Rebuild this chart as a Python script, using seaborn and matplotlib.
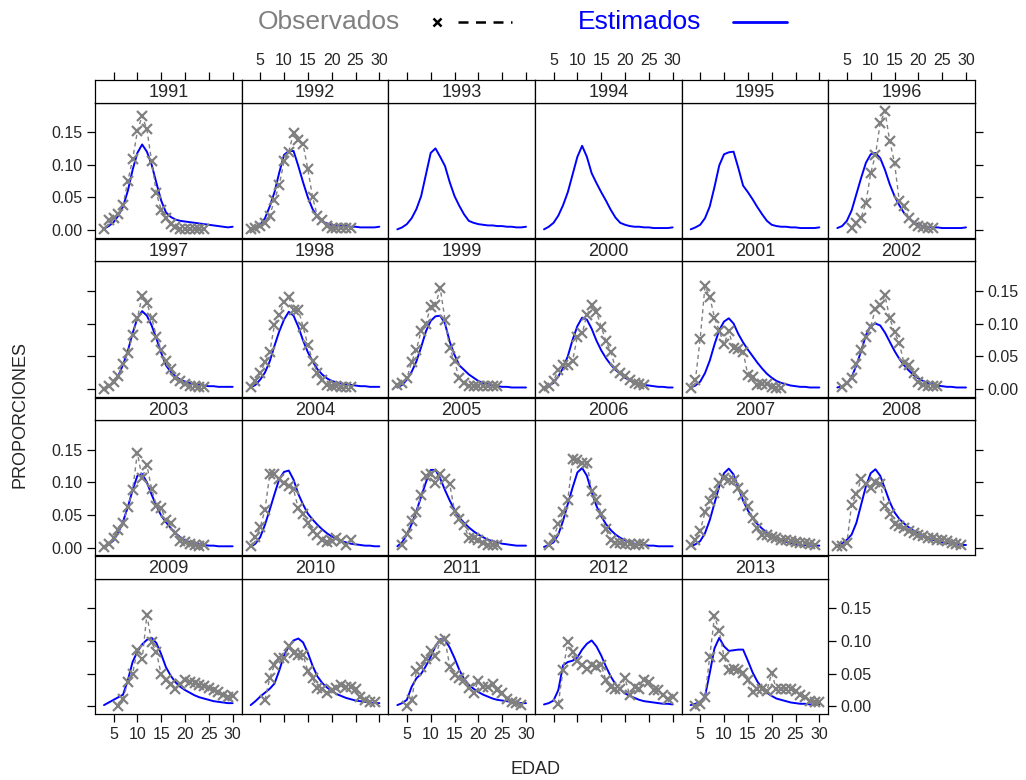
import numpy as np
import pandas as pd
import seaborn as sns
import matplotlib.pyplot as plt
from matplotlib.lines import Line2D

# ---- data (proporciones por edad) ----
years = list(range(1991, 2014))
ages = list(range(3, 31))  # edades del modelo

est_1991 = [.002,.006,.012,.022,.036,.060,.092,.118,.131,.120,.100,.072,.045,.027,.020,.016,.014,.013,.012,.011,.010,.009,.008,.007,.006,.005,.004,.005]
est_1992 = [.002,.004,.008,.018,.036,.058,.088,.115,.121,.121,.098,.073,.050,.032,.020,.013,.010,.008,.007,.006,.006,.005,.005,.004,.004,.004,.004,.005]
est_1993 = [.001,.004,.009,.018,.032,.052,.085,.118,.125,.112,.098,.073,.052,.037,.024,.014,.011,.009,.008,.007,.007,.006,.006,.005,.005,.004,.004,.005]
est_1994 = [.001,.005,.011,.022,.038,.058,.085,.112,.129,.112,.087,.072,.058,.045,.031,.019,.011,.008,.006,.005,.005,.004,.004,.003,.003,.003,.003,.004]
est_1995 = [.001,.004,.008,.018,.036,.066,.099,.116,.119,.120,.095,.068,.058,.047,.035,.024,.014,.008,.006,.005,.005,.004,.004,.003,.003,.003,.003,.004]
est_1996 = [.003,.006,.014,.030,.055,.080,.103,.116,.118,.110,.092,.070,.052,.038,.026,.018,.012,.008,.006,.005,.004,.004,.003,.003,.003,.003,.003,.004]
est_1997 = [.001,.004,.009,.020,.037,.058,.085,.108,.119,.112,.097,.077,.055,.036,.026,.019,.014,.011,.009,.007,.006,.005,.004,.004,.003,.003,.003,.003]
est_1998 = [.002,.006,.014,.025,.042,.066,.088,.106,.118,.112,.095,.074,.056,.042,.030,.022,.016,.012,.010,.008,.007,.006,.005,.004,.004,.003,.003,.003]
est_1999 = [.002,.006,.014,.026,.042,.064,.088,.104,.111,.112,.100,.072,.052,.036,.029,.022,.017,.012,.009,.007,.005,.004,.003,.003,.002,.002,.002,.002]
est_2000 = [.002,.005,.009,.019,.032,.050,.075,.096,.109,.106,.092,.074,.059,.047,.037,.029,.023,.017,.013,.010,.008,.006,.005,.004,.003,.003,.002,.002]
est_2001 = [.002,.005,.011,.024,.043,.068,.090,.103,.108,.100,.084,.071,.060,.050,.040,.031,.023,.017,.012,.009,.007,.005,.004,.003,.003,.002,.002,.002]
est_2002 = [.002,.004,.008,.018,.036,.058,.082,.097,.100,.097,.086,.072,.058,.046,.036,.028,.021,.016,.012,.009,.007,.005,.004,.003,.003,.002,.002,.002]
est_2003 = [.001,.005,.011,.023,.040,.062,.088,.110,.113,.100,.081,.064,.049,.039,.030,.022,.016,.011,.008,.006,.005,.004,.003,.003,.002,.002,.002,.002]
est_2004 = [.001,.006,.016,.035,.058,.082,.105,.116,.118,.104,.082,.066,.052,.043,.035,.028,.022,.017,.013,.010,.008,.006,.005,.004,.003,.003,.002,.002]
est_2005 = [.002,.008,.020,.036,.056,.078,.100,.119,.119,.106,.088,.072,.058,.046,.038,.031,.025,.020,.016,.012,.010,.008,.006,.005,.004,.003,.003,.003]
est_2006 = [.001,.004,.008,.020,.041,.067,.092,.115,.122,.110,.085,.064,.048,.036,.027,.020,.015,.011,.008,.006,.005,.004,.003,.003,.002,.002,.002,.002]
est_2007 = [.002,.005,.010,.022,.042,.068,.094,.114,.121,.112,.092,.072,.057,.045,.036,.029,.023,.018,.014,.011,.009,.007,.005,.004,.004,.003,.003,.003]
est_2008 = [.002,.006,.012,.020,.038,.066,.094,.114,.120,.110,.090,.070,.054,.044,.037,.031,.026,.022,.018,.015,.012,.010,.008,.007,.006,.005,.004,.004]
est_2009 = [.002,.006,.010,.014,.018,.040,.068,.084,.095,.102,.105,.097,.080,.060,.047,.037,.030,.025,.021,.017,.014,.012,.010,.008,.007,.006,.005,.005]
est_2010 = [.002,.008,.015,.021,.027,.035,.055,.078,.092,.101,.104,.098,.082,.062,.046,.036,.029,.024,.019,.016,.013,.011,.009,.008,.007,.006,.005,.005]
est_2011 = [.002,.005,.010,.030,.043,.050,.062,.076,.092,.103,.102,.090,.074,.056,.042,.033,.027,.022,.018,.015,.012,.010,.009,.008,.007,.006,.005,.005]
est_2012 = [.003,.005,.009,.025,.063,.068,.070,.075,.087,.096,.101,.092,.078,.061,.046,.034,.026,.020,.016,.013,.010,.008,.007,.006,.005,.004,.004,.003]
est_2013 = [.002,.004,.007,.015,.051,.089,.105,.092,.085,.086,.087,.087,.070,.052,.038,.028,.021,.016,.012,.010,.008,.006,.005,.004,.004,.003,.003,.003]

# observados (1993-1995 sin datos)
obs_1991 = [.001,.015,.018,.025,.038,.075,.108,.151,.175,.154,.105,.056,.031,.018,.009,.004,.002,.001,.001,.001,.001,.001]
obs_1992 = [.001,.003,.006,.010,.022,.046,.069,.105,.120,.149,.138,.131,.093,.050,.021,.016,.006,.003,.003,.003,.003,.003]
obs_1996 = [.003,.010,.019,.042,.087,.115,.164,.182,.136,.103,.044,.036,.018,.010,.006,.004,.003,.003]
obs_1997 = [.000,.004,.010,.020,.038,.055,.082,.108,.142,.131,.109,.080,.060,.042,.030,.017,.012,.008,.005,.004,.003,.002]
obs_1998 = [.002,.012,.024,.041,.056,.098,.113,.133,.140,.121,.121,.095,.067,.043,.024,.014,.006,.005,.004,.002,.002,.002]
obs_1999 = [.006,.009,.016,.041,.060,.089,.100,.126,.128,.154,.106,.062,.042,.016,.009,.004,.004,.004,.004,.004,.004,.004]
obs_2000 = [.001,.004,.012,.029,.037,.037,.043,.080,.085,.113,.128,.118,.095,.073,.057,.032,.024,.019,.014,.009,.007,.006]
obs_2001 = [.001,.014,.077,.157,.141,.109,.089,.068,.088,.062,.061,.057,.021,.018,.006,.007,.007,.002,.001,.001]
obs_2002 = [.002,.009,.016,.038,.060,.080,.095,.123,.128,.143,.108,.087,.070,.039,.037,.024,.011,.006,.005,.005,.005]
obs_2003 = [.001,.006,.015,.027,.038,.062,.088,.145,.107,.126,.090,.064,.060,.042,.038,.022,.010,.008,.006,.004,.003,.004]
obs_2004 = [.002,.016,.031,.058,.112,.113,.105,.099,.094,.089,.060,.051,.038,.026,.020,.012,.009,.010,.014,.010,.004,.011]
obs_2005 = [.004,.021,.041,.055,.081,.109,.112,.099,.112,.105,.097,.056,.044,.035,.015,.014,.011,.007,.004,.004,.004]
obs_2006 = [.004,.015,.036,.054,.073,.136,.134,.130,.129,.087,.073,.052,.028,.012,.007,.007,.005,.005,.004,.005,.005]
obs_2007 = [.004,.012,.026,.054,.071,.083,.099,.106,.104,.103,.092,.080,.064,.046,.030,.020,.019,.016,.014,.012,.012,.010,.009,.007,.007,.006,.004]
obs_2008 = [.002,.002,.007,.066,.082,.105,.098,.092,.100,.098,.064,.051,.036,.033,.030,.025,.023,.020,.018,.015,.014,.012,.011,.010,.007,.005,.004]
obs_2009 = [.001,.012,.037,.050,.087,.072,.140,.098,.083,.049,.040,.034,.026,.035,.041,.037,.036,.033,.032,.028,.025,.022,.018,.015,.016]
obs_2010 = [.010,.043,.064,.074,.074,.092,.082,.078,.079,.054,.043,.028,.026,.021,.025,.028,.033,.029,.029,.026,.015,.010,.007,.006]
obs_2011 = [.001,.010,.054,.061,.072,.085,.077,.100,.103,.061,.048,.043,.041,.028,.021,.039,.030,.030,.035,.025,.020,.012,.007,.005,.002]
obs_2012 = [.004,.056,.099,.084,.069,.063,.058,.063,.061,.063,.040,.030,.027,.027,.043,.017,.030,.027,.040,.038,.025,.025,.017,.012,.014]
obs_2013 = [.000,.004,.015,.076,.138,.115,.076,.055,.057,.056,.051,.041,.022,.027,.027,.024,.051,.026,.027,.027,.026,.024,.017,.014,.009,.007,.007]

# primera edad observada de cada serie
obs_first_age = {1991: 3, 1992: 3, 1996: 6, 1997: 3, 1998: 3, 1999: 3, 2000: 3,
                 2001: 3, 2002: 4, 2003: 3, 2004: 3, 2005: 4, 2006: 4, 2007: 3,
                 2008: 3, 2009: 6, 2010: 6, 2011: 5, 2012: 6, 2013: 4}

# ---- long tables ----
g = globals()
est_rows, obs_rows = [], []
for y in years:
    for a, v in zip(ages, g[f'est_{y}']):
        est_rows.append((y, a, v))
    if y in obs_first_age:
        a0 = obs_first_age[y]
        for k, v in enumerate(g[f'obs_{y}']):
            obs_rows.append((y, a0 + k, v))
est = pd.DataFrame(est_rows, columns=['year', 'edad', 'prop'])
obs = pd.DataFrame(obs_rows, columns=['year', 'edad', 'prop'])

# ---- figure ----
sns.set_style('white')
plt.rcParams['font.family'] = ['Liberation Sans', 'DejaVu Sans']
W, H = 1026, 780
fig = plt.figure(figsize=(W / 100, H / 100), dpi=100)

def box(x0, y0, x1, y1):
    return [x0 / W, 1 - y1 / H, (x1 - x0) / W, (y1 - y0) / H]

xlim = (1.11, 31.89)
ylim = (-0.0118, 0.195)
left0, cw = 95, 880 / 6
top0, pitch, sh, ph = 80, 158.8, 22.7, 135

ncol = 6
n = len(years)
for i, y in enumerate(years):
    r, c = divmod(i, ncol)
    x0 = left0 + c * cw
    st = top0 + r * pitch
    last = (c == ncol - 1) or (i == n - 1)

    ax = fig.add_axes(box(x0, st + sh, x0 + cw, st + sh + ph))
    sax = fig.add_axes(box(x0, st, x0 + cw, st + sh))

    sns.lineplot(data=est[est.year == y], x='edad', y='prop', color='blue',
                 lw=1.4, ax=ax)
    d = obs[obs.year == y]
    if len(d):
        sns.lineplot(data=d, x='edad', y='prop', color='#808080', lw=1,
                     linestyle=(0, (3, 2.5)), marker='x', markersize=7,
                     markeredgewidth=1.6, markeredgecolor='#808080', ax=ax)
    ax.set_xlim(xlim)
    ax.set_ylim(ylim)
    ax.set_xlabel('')
    ax.set_ylabel('')
    ax.set_xticks([5, 10, 15, 20, 25, 30])
    ax.set_yticks([0, 0.05, 0.10, 0.15])
    ax.set_yticklabels(['0.00', '0.05', '0.10', '0.15'])
    ax.tick_params(direction='out', length=6, width=0.9, color='black',
                   labelsize=11.5, pad=3,
                   left=(c == 0), labelleft=(c == 0 and r % 2 == 0),
                   right=last, labelright=(last and r % 2 == 1),
                   bottom=(r == 3), labelbottom=(r == 3 and c % 2 == 0),
                   top=False, labeltop=False)
    for s in ax.spines.values():
        s.set_color('black')
        s.set_linewidth(0.9)

    sax.set_xlim(xlim)
    sax.set_ylim(0, 1)
    sax.set_yticks([])
    sax.set_xticks([5, 10, 15, 20, 25, 30])
    sax.tick_params(direction='out', length=6, width=0.9, color='black',
                    labelsize=11.5, pad=3, bottom=False, labelbottom=False,
                    top=(r == 0), labeltop=(r == 0 and c % 2 == 1))
    for s in sax.spines.values():
        s.set_color('black')
        s.set_linewidth(0.9)
    sax.text(0.5, 0.45, str(y), transform=sax.transAxes, ha='center',
             va='center', fontsize=13)

# axis titles
fig.text(535 / W, 1 - 770 / H, 'EDAD', ha='center', va='center', fontsize=13)
fig.text(20 / W, 1 - 415 / H, 'PROPORCIONES', ha='center', va='center',
         rotation=90, fontsize=13)

# key at top
ky = 1 - 22 / H
fig.text(258 / W, ky, 'Observados', color='#808080', fontsize=19,
         ha='left', va='center')
fig.lines.append(Line2D([437 / W], [ky], marker='x', color='black',
                        markersize=6, markeredgewidth=1.8,
                        transform=fig.transFigure))
fig.lines.append(Line2D([458 / W, 512 / W], [ky, ky], color='black', lw=1.8,
                        linestyle=(0, (4, 3)), transform=fig.transFigure))
fig.text(578 / W, ky, 'Estimados', color='blue', fontsize=19,
         ha='left', va='center')
fig.lines.append(Line2D([733 / W, 787 / W], [ky, ky], color='blue', lw=2,
                        transform=fig.transFigure))

fig.savefig('out.png', dpi=100, facecolor='white')
